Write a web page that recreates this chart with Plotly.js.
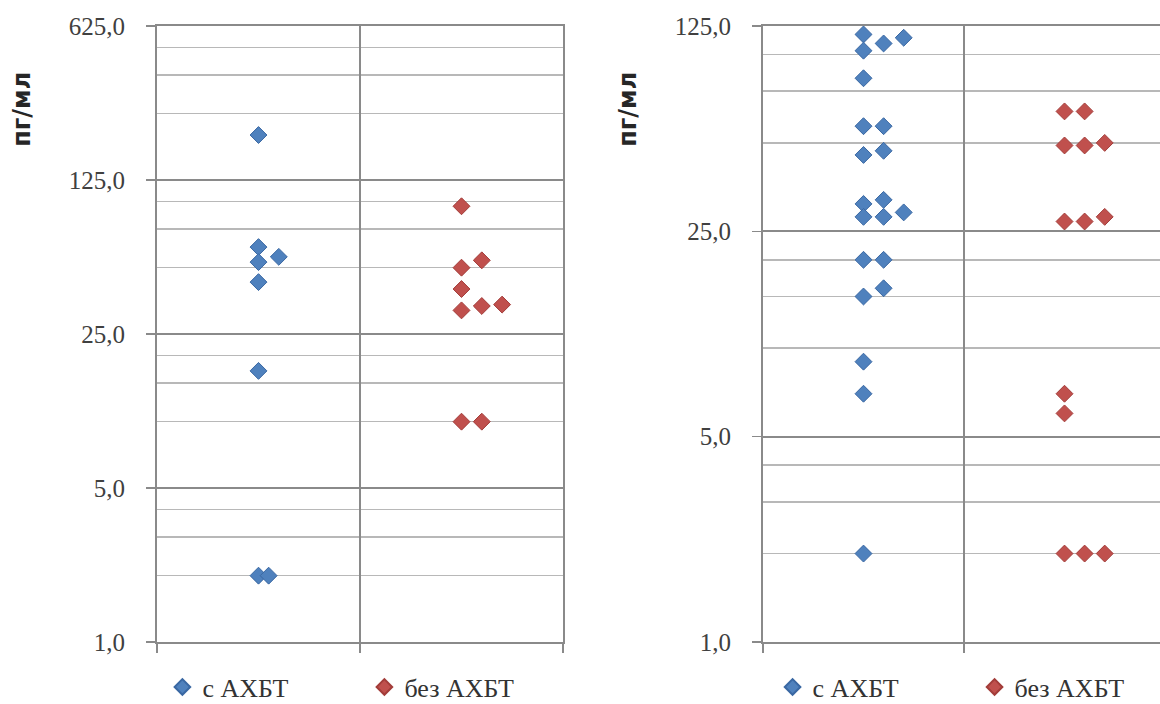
<!DOCTYPE html>
<html>
<head>
<meta charset="utf-8">
<script src="https://cdn.plot.ly/plotly-3.0.1.min.js"></script>
<style>
  html, body { margin: 0; padding: 0; background: #ffffff; }
  #chart { width: 1160px; height: 704px; }
</style>
</head>
<body>
<div id="chart"></div>
<script>
// ---- Data ----
const seriesNames = ['с АХБТ', 'без АХБТ'];
const yTitle = 'пг/мл';

// Left panel
const leftWithX = [0.5, 0.5, 0.5, 0.6, 0.5, 0.5, 0.5, 0.55];
const leftWithY = [200, 62, 53, 56, 43, 17, 2, 2];
const leftWithoutX = [1.5, 1.5, 1.6, 1.5, 1.5, 1.6, 1.7, 1.5, 1.6];
const leftWithoutY = [95, 50, 54, 40, 32, 33.5, 34, 10, 10];

// Right panel
const rightWithX = [0.5, 0.5, 0.6, 0.7, 0.5, 0.5, 0.6, 0.5, 0.6, 0.5, 0.6, 0.5, 0.6, 0.7, 0.5, 0.6, 0.5, 0.6, 0.5, 0.5, 0.5];
const rightWithY = [117, 103, 109, 114, 83, 57, 57, 45.5, 47, 31, 32, 28, 28, 29, 20, 20, 15, 16, 9, 7, 2];
const rightWithoutX = [1.5, 1.6, 1.5, 1.6, 1.7, 1.5, 1.6, 1.7, 1.5, 1.5, 1.5, 1.6, 1.7];
const rightWithoutY = [64, 64, 49, 49, 50, 27, 27, 28, 7, 6, 2, 2, 2];

// Axis ticks
const leftTickVals = [1, 5, 25, 125, 625];
const leftTickText = ['1,0', '5,0', '25,0', '125,0', '625,0'];
const leftMinorVals = [2, 3, 4, 10, 15, 20, 50, 75, 100, 250, 375, 500];
const rightTickVals = [1, 5, 25, 125];
const rightTickText = ['1,0', '5,0', '25,0', '125,0'];
const rightMinorVals = [2, 3, 4, 10, 15, 20, 50, 75, 100];
const xBoundaries = [0, 1, 2];

// ---- Styles ----
const blue = '#4F81BD', blueEdge = '#3A68A3';
const red = '#C0504D', redEdge = '#A33D3A';
const majorGrid = '#8a8a8a', minorGrid = '#b8b8b8';
const tickFont = { family: 'Liberation Serif, Times New Roman, serif', size: 25, color: '#404040' };

function mk(x, y, name, color, edge, xa, ya, lg) {
  return {
    type: 'scatter', mode: 'markers', x: x, y: y, name: name,
    xaxis: xa, yaxis: ya, legend: lg, cliponaxis: false,
    marker: { symbol: 'diamond', size: 13, color: color, line: { color: edge, width: 1 } },
    hoverinfo: 'skip'
  };
}

const traces = [
  mk(leftWithX, leftWithY, seriesNames[0], blue, blueEdge, 'x', 'y', 'legend'),
  mk(leftWithoutX, leftWithoutY, seriesNames[1], red, redEdge, 'x', 'y', 'legend'),
  mk(rightWithX, rightWithY, seriesNames[0], blue, blueEdge, 'x2', 'y2', 'legend2'),
  mk(rightWithoutX, rightWithoutY, seriesNames[1], red, redEdge, 'x2', 'y2', 'legend2')
];

function xAxis(domain, range, anchor, mirror) {
  return {
    domain: domain, range: range, anchor: anchor,
    tickmode: 'array', tickvals: xBoundaries, showticklabels: false,
    ticks: 'outside', ticklen: 9, tickwidth: 1.5, tickcolor: majorGrid,
    showgrid: true, gridcolor: majorGrid, gridwidth: 1.5,
    showline: true, linecolor: majorGrid, linewidth: 2, mirror: mirror,
    zeroline: false, fixedrange: true
  };
}
function yAxis(range, vals, text, minorVals, anchor, mirror) {
  return {
    type: 'log', range: range, anchor: anchor, domain: [0, 1],
    tickmode: 'array', tickvals: vals, ticktext: text,
    ticks: 'outside', ticklen: 9, tickwidth: 1.5, tickcolor: majorGrid,
    ticklabelstandoff: 16,
    tickfont: tickFont,
    showgrid: true, gridcolor: majorGrid, gridwidth: 2,
    minor: { tickmode: 'array', tickvals: minorVals, showgrid: true, gridcolor: minorGrid, gridwidth: 1.5, ticks: '' },
    showline: true, linecolor: majorGrid, linewidth: 2, mirror: mirror,
    zeroline: false, fixedrange: true
  };
}

const legendFont = { family: 'Liberation Serif, Times New Roman, serif', size: 26, color: '#333333' };
function legendCfg(x) {
  return {
    orientation: 'h', x: x, xanchor: 'left', y: -0.035, yanchor: 'top',
    font: legendFont, entrywidth: 157, entrywidthmode: 'pixels',
    itemsizing: 'constant', bgcolor: 'rgba(0,0,0,0)', borderwidth: 0,
    tracegroupgap: 0
  };
}

const layout = {
  width: 1160, height: 704,
  margin: { l: 0, r: 0, t: 26, b: 62, pad: 0, autoexpand: false },
  paper_bgcolor: '#ffffff', plot_bgcolor: '#ffffff',
  showlegend: true,
  xaxis: xAxis([157 / 1160, 563 / 1160], [0, 2], 'y', true),
  yaxis: yAxis([0, Math.log10(625)], leftTickVals, leftTickText, leftMinorVals, 'x', true),
  xaxis2: xAxis([763 / 1160, 1], [0, 1.975], 'y2', true),
  yaxis2: yAxis([0, Math.log10(125)], rightTickVals, rightTickText, rightMinorVals, 'x2', false),
  legend: legendCfg(0.14),
  legend2: legendCfg(0.666),
  annotations: [
    { text: yTitle, xref: 'paper', yref: 'paper', x: 22 / 1160, y: 0.864, textangle: -90,
      showarrow: false, xanchor: 'center', yanchor: 'middle',
      font: { family: 'DejaVu Sans, sans-serif', size: 24, color: '#262626', weight: 'bold' } },
    { text: yTitle, xref: 'paper', yref: 'paper', x: 628 / 1160, y: 0.864, textangle: -90,
      showarrow: false, xanchor: 'center', yanchor: 'middle',
      font: { family: 'DejaVu Sans, sans-serif', size: 24, color: '#262626', weight: 'bold' } }
  ]
};

Plotly.newPlot('chart', traces, layout, { staticPlot: true, displayModeBar: false });
</script>
</body>
</html>
